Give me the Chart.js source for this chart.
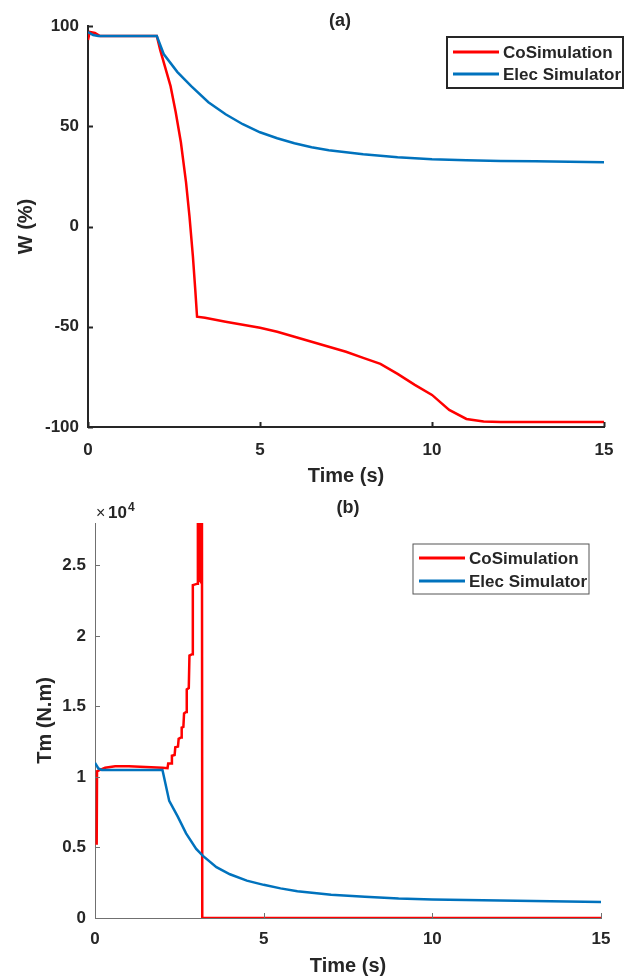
<!DOCTYPE html>
<html>
<head>
<meta charset="utf-8">
<script src="https://cdn.jsdelivr.net/npm/chart.js@4.4.1/dist/chart.umd.min.js"></script>
<style>
  body { margin: 0; background: #fff; }
  canvas { display: block; }
</style>
</head>
<body>
<canvas id="wChart" width="627" height="490"></canvas>
<canvas id="tmChart" width="627" height="489"></canvas>
<script>
// (a) rotor speed W (%)
const coSimTimeW = [0, 0.05, 0.2, 0.35, 1.0, 2.0, 2.1, 2.25, 2.4, 2.55, 2.7, 2.85, 2.95, 3.05, 3.12, 3.17, 3.4, 4.0, 4.5, 5.0, 5.5, 6.0, 6.5, 7.0, 7.5, 8.0, 8.5, 9.0, 9.5, 10.0, 10.5, 11.0, 11.5, 12.0, 13.0, 14.0, 15.0];
const coSimW = [93, 97, 96.5, 95, 95, 95, 88, 79, 70, 57, 42, 22, 5, -15, -32, -45, -45.5, -47.5, -49, -50.5, -52.5, -55, -57.5, -60, -62.5, -65.5, -68.5, -73.5, -79, -84, -91.5, -96, -97.3, -97.5, -97.5, -97.5, -97.5];
const elecTimeW = [0, 0.15, 0.3, 2.0, 2.2, 2.6, 3.0, 3.5, 4.0, 4.5, 5.0, 5.5, 6.0, 6.5, 7.0, 8.0, 9.0, 10.0, 11.0, 12.0, 13.0, 14.0, 15.0];
const elecW = [97, 95.5, 95, 95, 86, 77, 70, 62, 56, 51, 47, 44, 41.5, 39.5, 38, 36, 34.5, 33.5, 33, 32.7, 32.5, 32.3, 32];
const wTickValues = [-100, -50, 0, 50, 100];

// (b) mechanical torque Tm (N.m)
const coSimTimeTm = [0.05, 0.06, 0.1, 0.3, 0.6, 1.0, 1.5, 2.0, 2.15, 2.17, 2.26, 2.28, 2.36, 2.38, 2.46, 2.48, 2.55, 2.57, 2.62, 2.64, 2.7, 2.72, 2.78, 2.8, 2.88, 2.9, 3.04, 3.05, 3.07, 3.09, 3.11, 3.13, 3.15, 3.17, 3.18, 15];
const coSimTm = [5200, 10400, 10450, 10650, 10750, 10760, 10700, 10650, 10620, 10950, 10950, 11500, 11550, 12100, 12150, 12700, 12800, 13500, 13550, 14500, 14600, 16200, 16300, 18600, 18700, 23600, 23700, 30000, 23800, 30000, 23800, 30000, 23800, 30000, 0, 0];
const elecTimeTm = [0, 0.1, 0.2, 2.0, 2.2, 2.45, 2.7, 3.0, 3.2, 3.6, 4.0, 4.5, 5.0, 5.5, 6.0, 6.5, 7.0, 8.0, 9.0, 10.0, 11.0, 12.0, 13.0, 14.0, 15.0];
const elecTm = [11000, 10600, 10500, 10500, 8300, 7200, 6000, 4900, 4400, 3600, 3100, 2650, 2350, 2100, 1900, 1780, 1650, 1500, 1380, 1320, 1270, 1240, 1200, 1170, 1140];
const tmTickValues = [0, 5000, 10000, 15000, 20000, 25000];

const seriesNames = ["CoSimulation", "Elec Simulator"];
const timeTickValues = [0, 5, 10, 15];

const RED = "#ff0000";
const BLUE = "#0072bd";
const TEXT = "#262626";
const FONT = "'Liberation Sans', Arial, sans-serif";

function toPoints(xs, ys) {
  return xs.map((x, i) => ({ x: x, y: ys[i] }));
}

function fixedTicks(values) {
  return scale => { scale.ticks = values.map(v => ({ value: v })); };
}

// MATLAB style tick marks pointing into the plot
const inwardTicks = {
  id: "inwardTicks",
  afterDatasetsDraw(chart, args, opts) {
    const { ctx, chartArea } = chart;
    const xs = chart.scales.x, ys = chart.scales.y;
    ctx.save();
    ctx.strokeStyle = opts.color;
    ctx.lineWidth = opts.width;
    ctx.beginPath();
    xs.ticks.forEach(t => {
      const px = Math.round(xs.getPixelForValue(t.value)) + 0.5;
      ctx.moveTo(px, chartArea.bottom);
      ctx.lineTo(px, chartArea.bottom - opts.len);
    });
    ys.ticks.forEach(t => {
      const py = Math.round(ys.getPixelForValue(t.value)) + 0.5;
      ctx.moveTo(chartArea.left, py);
      ctx.lineTo(chartArea.left + opts.len, py);
    });
    ctx.stroke();
    ctx.restore();
  }
};

// boxed legend inside the axes plus the panel title
const panelDecor = {
  id: "panelDecor",
  afterDraw(chart, args, opts) {
    const { ctx } = chart;
    ctx.save();
    ctx.fillStyle = TEXT;
    ctx.font = "bold 18px " + FONT;
    ctx.textAlign = "center";
    ctx.textBaseline = "middle";
    ctx.fillText(opts.title, opts.titleX, opts.titleY);

    if (opts.exponent) {
      ctx.textAlign = "left";
      ctx.textBaseline = "alphabetic";
      ctx.font = "16px " + FONT;
      ctx.fillText("\u00d7", 96, 28);
      ctx.font = "bold 17px " + FONT;
      ctx.fillText("10", 108, 28);
      ctx.font = "bold 12px " + FONT;
      ctx.fillText("4", 128, 21);
    }

    const lg = opts.legend;
    ctx.fillStyle = "#fff";
    ctx.fillRect(lg.x, lg.y, lg.w, lg.h);
    ctx.strokeStyle = lg.border;
    ctx.lineWidth = lg.borderWidth;
    ctx.strokeRect(lg.x, lg.y, lg.w, lg.h);
    ctx.font = "bold 17px " + FONT;
    ctx.textAlign = "left";
    ctx.textBaseline = "middle";
    chart.data.datasets.forEach((ds, i) => {
      const ry = lg.y + lg.rowY[i];
      ctx.strokeStyle = ds.borderColor;
      ctx.lineWidth = 3;
      ctx.beginPath();
      ctx.moveTo(lg.x + 6, ry);
      ctx.lineTo(lg.x + 52, ry);
      ctx.stroke();
      ctx.fillStyle = TEXT;
      ctx.fillText(ds.label, lg.x + 56, ry + 1);
    });
    ctx.restore();
  }
};

function makeChart(id, cfg) {
  const tickFont = { family: FONT, size: 17, weight: "bold" };
  const titleFont = { family: FONT, size: 20, weight: "bold" };
  return new Chart(document.getElementById(id), {
    type: "line",
    data: {
      datasets: [
        { label: seriesNames[0], data: cfg.red, borderColor: RED, borderWidth: 2.5, pointRadius: 0, tension: 0, order: 1 },
        { label: seriesNames[1], data: cfg.blue, borderColor: BLUE, borderWidth: 2.5, pointRadius: 0, tension: 0, order: 0 }
      ]
    },
    options: {
      responsive: false,
      animation: false,
      devicePixelRatio: 1,
      layout: { padding: cfg.padding },
      plugins: {
        legend: { display: false },
        tooltip: { enabled: false },
        inwardTicks: { color: cfg.axisColor, width: cfg.axisWidth, len: 5 },
        panelDecor: cfg.decor
      },
      scales: {
        x: {
          type: "linear",
          min: timeTickValues[0],
          max: timeTickValues[timeTickValues.length - 1],
          afterBuildTicks: fixedTicks(timeTickValues),
          afterFit: s => { s.height = cfg.xHeight; },
          grid: { display: false, drawTicks: false },
          border: { display: true, color: cfg.axisColor, width: cfg.axisWidth },
          ticks: { color: TEXT, font: tickFont, padding: cfg.xPad, maxRotation: 0 },
          title: { display: true, text: "Time (s)", color: TEXT, font: titleFont, padding: { top: 0, bottom: cfg.xTitlePad } }
        },
        y: {
          type: "linear",
          min: cfg.yMin,
          max: cfg.yMax,
          afterBuildTicks: fixedTicks(cfg.yTicks),
          afterFit: s => { s.width = cfg.yWidth; },
          grid: { display: false, drawTicks: false },
          border: { display: true, color: cfg.axisColor, width: cfg.axisWidth },
          ticks: { color: TEXT, font: tickFont, padding: 9, callback: cfg.yFormat },
          title: { display: true, text: cfg.yTitle, color: TEXT, font: titleFont, padding: { top: cfg.yTitlePad, bottom: 0 } }
        }
      }
    },
    plugins: [inwardTicks, panelDecor]
  });
}

makeChart("wChart", {
  red: toPoints(coSimTimeW, coSimW),
  blue: toPoints(elecTimeW, elecW),
  padding: { top: 26, right: 23, bottom: 0, left: 0 },
  xHeight: 63, yWidth: 88, xPad: 13, xTitlePad: 2, yTitlePad: 14,
  yMin: -100, yMax: 100, yTicks: wTickValues,
  yFormat: v => String(v),
  yTitle: "W (%)",
  axisColor: "#262626", axisWidth: 2,
  decor: {
    title: "(a)", titleX: 340, titleY: 21,
    legend: { x: 447, y: 37, w: 176, h: 51, border: "#262626", borderWidth: 2, rowY: [15, 37] }
  }
});

makeChart("tmChart", {
  red: toPoints(coSimTimeTm, coSimTm),
  blue: toPoints(elecTimeTm, elecTm),
  padding: { top: 33, right: 26, bottom: 0, left: 0 },
  xHeight: 61, yWidth: 95, xPad: 11, xTitlePad: 1, yTitlePad: 33,
  yMin: 0, yMax: 28000, yTicks: tmTickValues,
  yFormat: v => String(v / 10000),
  yTitle: "Tm (N.m)",
  axisColor: "#707070", axisWidth: 1,
  decor: {
    title: "(b)", titleX: 348, titleY: 18, exponent: true,
    legend: { x: 413, y: 54, w: 176, h: 50, border: "#555555", borderWidth: 1, rowY: [14, 37] }
  }
});
</script>
</body>
</html>
